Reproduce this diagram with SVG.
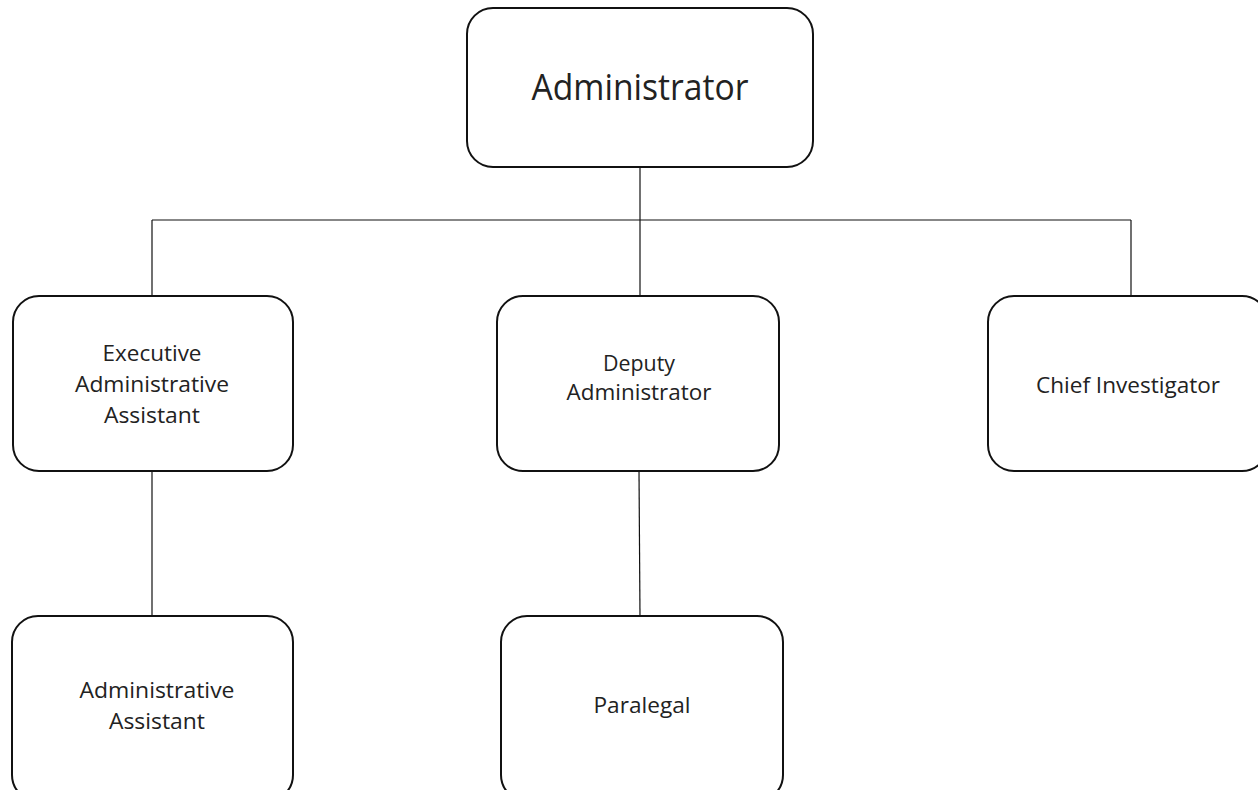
<svg xmlns="http://www.w3.org/2000/svg" width="1258" height="790" viewBox="0 0 1258 790">
<style>
.box{fill:#fff;stroke:#111;stroke-width:2}
.ln{stroke:#111;stroke-width:1.2;fill:none}
text{font-family:"Open Sans","Noto Sans",sans-serif;fill:#222;text-anchor:middle}
.s{font-size:22px}
.b{font-size:36px}
</style>
<rect width="1258" height="790" fill="#fff"/>
<g id="connectors">
<line class="ln" x1="640" y1="167" x2="640" y2="296"/>
<line class="ln" x1="152" y1="220" x2="1131" y2="220"/>
<line class="ln" x1="152" y1="220" x2="152" y2="296"/>
<line class="ln" x1="1131" y1="220" x2="1131" y2="296"/>
<line class="ln" x1="152" y1="471" x2="152" y2="616"/>
<line class="ln" x1="639" y1="471" x2="640" y2="616"/>
</g>
<g id="administrator">
<rect class="box" x="467" y="8" width="346" height="159" rx="26"/>
<text class="b" x="640" y="100" textLength="217" lengthAdjust="spacingAndGlyphs">Administrator</text>
</g>
<g id="exec-assistant">
<rect class="box" x="13" y="296" width="280" height="175" rx="26"/>
<text class="s" x="152" y="361" textLength="99" lengthAdjust="spacingAndGlyphs">Executive</text>
<text class="s" x="152" y="392" textLength="154" lengthAdjust="spacingAndGlyphs">Administrative</text>
<text class="s" x="152" y="423" textLength="96" lengthAdjust="spacingAndGlyphs">Assistant</text>
</g>
<g id="deputy">
<rect class="box" x="497" y="296" width="282" height="175" rx="26"/>
<text class="s" x="639" y="371" textLength="72" lengthAdjust="spacingAndGlyphs">Deputy</text>
<text class="s" x="639" y="400" textLength="145" lengthAdjust="spacingAndGlyphs">Administrator</text>
</g>
<g id="chief">
<rect class="box" x="988" y="296" width="280" height="175" rx="26"/>
<text class="s" x="1128" y="393" textLength="184" lengthAdjust="spacingAndGlyphs">Chief Investigator</text>
</g>
<g id="admin-assistant">
<rect class="box" x="12" y="616" width="281" height="185" rx="26"/>
<text class="s" x="157" y="698" textLength="155" lengthAdjust="spacingAndGlyphs">Administrative</text>
<text class="s" x="157" y="729" textLength="96" lengthAdjust="spacingAndGlyphs">Assistant</text>
</g>
<g id="paralegal">
<rect class="box" x="501" y="616" width="282" height="185" rx="26"/>
<text class="s" x="642" y="713" textLength="97" lengthAdjust="spacingAndGlyphs">Paralegal</text>
</g>
</svg>
